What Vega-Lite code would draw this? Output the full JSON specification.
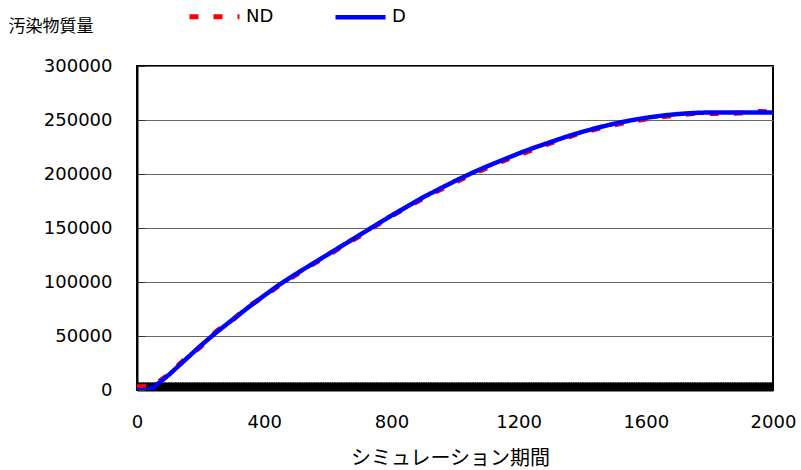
{
  "$schema": "https://vega.github.io/schema/vega-lite/v6.json",
  "width": 636,
  "height": 324,
  "autosize": "none",
  "padding": {"left": 137, "top": 66, "right": 28, "bottom": 80},
  "background": "white",
  "config": {
    "view": {"stroke": "black", "strokeWidth": 2},
    "font": "DejaVu Sans"
  },
  "data": {
    "values": [
      {"t": 0, "v": 3000, "s": "ND"}, {"t": 50, "v": 3500, "s": "ND"}, {"t": 100, "v": 14500, "s": "ND"},
      {"t": 150, "v": 28500, "s": "ND"}, {"t": 200, "v": 40000, "s": "ND"}, {"t": 250, "v": 54500, "s": "ND"},
      {"t": 300, "v": 64500, "s": "ND"}, {"t": 350, "v": 77500, "s": "ND"}, {"t": 400, "v": 86500, "s": "ND"},
      {"t": 450, "v": 97500, "s": "ND"}, {"t": 500, "v": 106500, "s": "ND"}, {"t": 550, "v": 116000, "s": "ND"},
      {"t": 600, "v": 124500, "s": "ND"}, {"t": 650, "v": 134000, "s": "ND"}, {"t": 700, "v": 142500, "s": "ND"},
      {"t": 750, "v": 152000, "s": "ND"}, {"t": 800, "v": 161000, "s": "ND"}, {"t": 850, "v": 169500, "s": "ND"},
      {"t": 900, "v": 177500, "s": "ND"}, {"t": 950, "v": 185000, "s": "ND"}, {"t": 1000, "v": 192000, "s": "ND"},
      {"t": 1050, "v": 199500, "s": "ND"}, {"t": 1100, "v": 205500, "s": "ND"}, {"t": 1150, "v": 212000, "s": "ND"},
      {"t": 1200, "v": 217500, "s": "ND"}, {"t": 1250, "v": 223000, "s": "ND"}, {"t": 1300, "v": 228500, "s": "ND"},
      {"t": 1350, "v": 233500, "s": "ND"}, {"t": 1400, "v": 238500, "s": "ND"}, {"t": 1450, "v": 242000, "s": "ND"},
      {"t": 1500, "v": 245500, "s": "ND"}, {"t": 1550, "v": 248500, "s": "ND"}, {"t": 1600, "v": 251000, "s": "ND"},
      {"t": 1650, "v": 253000, "s": "ND"}, {"t": 1700, "v": 254500, "s": "ND"}, {"t": 1750, "v": 256000, "s": "ND"},
      {"t": 1800, "v": 256000, "s": "ND"}, {"t": 1850, "v": 256000, "s": "ND"}, {"t": 1900, "v": 256500, "s": "ND"},
      {"t": 1950, "v": 258000, "s": "ND"}, {"t": 2000, "v": 257500, "s": "ND"},
      {"t": 0, "v": 0, "s": "D"}, {"t": 30, "v": 0, "s": "D"}, {"t": 50, "v": 2000, "s": "D"},
      {"t": 100, "v": 14000, "s": "D"}, {"t": 150, "v": 27500, "s": "D"}, {"t": 200, "v": 41000, "s": "D"},
      {"t": 250, "v": 53500, "s": "D"}, {"t": 300, "v": 65000, "s": "D"}, {"t": 350, "v": 76500, "s": "D"},
      {"t": 400, "v": 87500, "s": "D"}, {"t": 450, "v": 98000, "s": "D"}, {"t": 500, "v": 107500, "s": "D"},
      {"t": 550, "v": 116500, "s": "D"}, {"t": 600, "v": 125500, "s": "D"}, {"t": 650, "v": 134500, "s": "D"},
      {"t": 700, "v": 143500, "s": "D"}, {"t": 750, "v": 152500, "s": "D"}, {"t": 800, "v": 161500, "s": "D"},
      {"t": 850, "v": 170000, "s": "D"}, {"t": 900, "v": 178500, "s": "D"}, {"t": 950, "v": 186000, "s": "D"},
      {"t": 1000, "v": 193500, "s": "D"}, {"t": 1050, "v": 200500, "s": "D"}, {"t": 1100, "v": 207000, "s": "D"},
      {"t": 1150, "v": 213000, "s": "D"}, {"t": 1200, "v": 219000, "s": "D"}, {"t": 1250, "v": 224500, "s": "D"},
      {"t": 1300, "v": 229500, "s": "D"}, {"t": 1350, "v": 234500, "s": "D"}, {"t": 1400, "v": 239000, "s": "D"},
      {"t": 1450, "v": 243000, "s": "D"}, {"t": 1500, "v": 246500, "s": "D"}, {"t": 1550, "v": 249500, "s": "D"},
      {"t": 1600, "v": 252000, "s": "D"}, {"t": 1650, "v": 254000, "s": "D"}, {"t": 1700, "v": 255500, "s": "D"},
      {"t": 1750, "v": 256500, "s": "D"}, {"t": 1800, "v": 257000, "s": "D"}, {"t": 1850, "v": 257000, "s": "D"},
      {"t": 1900, "v": 257000, "s": "D"}, {"t": 1950, "v": 257000, "s": "D"}, {"t": 2000, "v": 257000, "s": "D"}
    ]
  },
  "mark": {"type": "line", "interpolate": "linear", "clip": true},
  "encoding": {
    "x": {
      "field": "t", "type": "quantitative",
      "scale": {"domain": [0, 2000], "nice": false},
      "axis": {
        "title": "シミュレーション期間",
        "titleFont": "Noto Sans CJK JP", "titleFontSize": 20, "titleFontWeight": "normal", "titleColor": "black",
        "titleX": 313, "titleY": 68, "titleAlign": "center", "titleBaseline": "middle",
        "tickCount": 1000, "tickSize": -8, "tickWidth": 1, "tickColor": "black",
        "grid": false, "domainColor": "black", "domainWidth": 2,
        "format": "d",
        "labelExpr": "datum.value % 400 === 0 ? datum.label : ''",
        "labelOverlap": false, "labelBound": false, "labelFlush": false,
        "labelFontSize": 18, "labelColor": "black", "labelPadding": 31
      }
    },
    "y": {
      "field": "v", "type": "quantitative",
      "scale": {"domain": [0, 300000], "nice": false},
      "axis": {
        "title": "汚染物質量",
        "titleFont": "Noto Sans CJK JP", "titleFontSize": 17, "titleFontWeight": "normal", "titleColor": "black",
        "titleAngle": 0, "titleX": -129, "titleY": -40, "titleAlign": "left", "titleBaseline": "middle",
        "values": [0, 50000, 100000, 150000, 200000, 250000, 300000],
        "format": "d",
        "grid": true, "gridColor": "#666666", "gridWidth": 1,
        "tickSize": -8, "tickColor": "#333333", "tickWidth": 1,
        "domainColor": "black", "domainWidth": 2,
        "labelFontSize": 18, "labelColor": "black", "labelPadding": 33
      }
    },
    "color": {
      "field": "s", "type": "nominal",
      "scale": {"domain": ["ND", "D"], "range": ["#ff0000", "#0000ff"]},
      "legend": {
        "title": null, "orient": "none", "legendX": 50, "legendY": -77,
        "direction": "horizontal", "symbolType": "stroke", "symbolSize": 2500,
        "labelFontSize": 18, "labelColor": "black", "labelOffset": 4, "columnPadding": 52
      }
    },
    "strokeDash": {
      "field": "s", "type": "nominal",
      "scale": {"domain": ["ND", "D"], "range": [[9, 15], [1, 0]]}
    },
    "strokeWidth": {
      "field": "s", "type": "nominal",
      "scale": {"domain": ["ND", "D"], "range": [5, 4.5]}
    }
  }
}
